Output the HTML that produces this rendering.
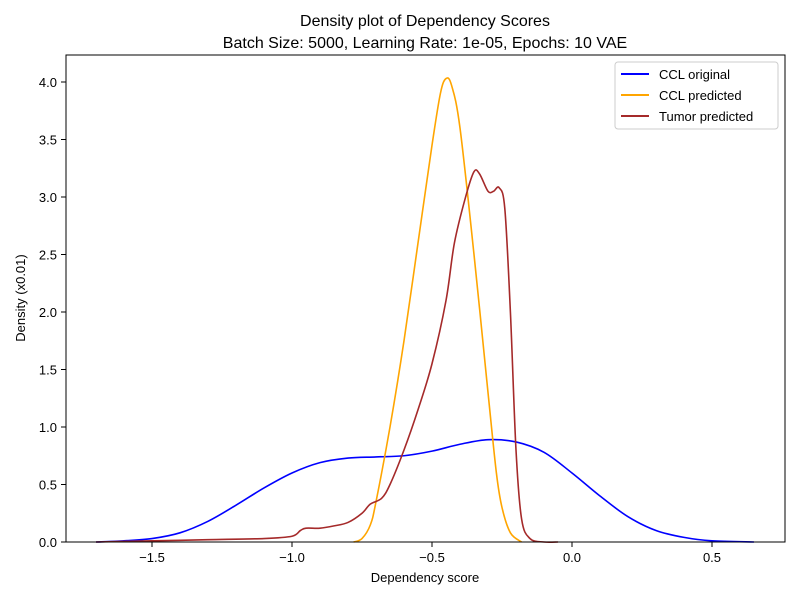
<!DOCTYPE html>
<html><head><meta charset="utf-8"><style>
body{margin:0;background:#fff;font-family:"Liberation Sans",sans-serif}
svg text{font-family:"Liberation Sans",sans-serif;fill:#000}
</style></head><body>
<svg id="chart" width="800" height="600">
<text x="425" y="26" font-size="16" text-anchor="middle">Density plot of Dependency Scores</text>
<text x="425" y="48" font-size="16" text-anchor="middle">Batch Size: 5000, Learning Rate: 1e-05, Epochs: 10 VAE</text>
<g id="curves"></g>
<rect x="66" y="55" width="719" height="487" fill="none" stroke="#000" stroke-width="1"/>
<g id="axes"></g>
<text x="425" y="582" font-size="13" text-anchor="middle">Dependency score</text>
<text transform="translate(25,298) rotate(-90)" font-size="13" text-anchor="middle">Density (x0.01)</text>
<g>
<rect x="615" y="62" width="163" height="67" fill="#fff" stroke="#ccc" rx="3"/>
<line x1="621" y1="74" x2="649" y2="74" stroke="#0000ff" stroke-width="2"/><text x="659" y="79" font-size="13">CCL original</text>
<line x1="621" y1="95" x2="649" y2="95" stroke="#ffa500" stroke-width="2"/><text x="659" y="100" font-size="13">CCL predicted</text>
<line x1="621" y1="116" x2="649" y2="116" stroke="#a52a2a" stroke-width="2"/><text x="659" y="121" font-size="13">Tumor predicted</text>
</g>
</svg>
<script>
const xTicks=[-1.5,-1.0,-0.5,0.0,0.5];
const yTicks=[0.0,0.5,1.0,1.5,2.0,2.5,3.0,3.5,4.0];
const cclOrigX=[-1.7,-1.6,-1.5,-1.4,-1.3,-1.2,-1.1,-1.0,-0.9,-0.8,-0.7,-0.6,-0.5,-0.4,-0.3,-0.2,-0.1,0.0,0.1,0.2,0.3,0.4,0.5,0.65];
const cclOrigY=[0.0,0.01,0.03,0.08,0.18,0.32,0.47,0.6,0.69,0.73,0.74,0.75,0.79,0.85,0.89,0.87,0.78,0.6,0.4,0.22,0.1,0.04,0.01,0.0];
const cclPredX=[-0.78,-0.75,-0.72,-0.7,-0.65,-0.6,-0.55,-0.5,-0.47,-0.45,-0.43,-0.4,-0.35,-0.3,-0.27,-0.25,-0.22,-0.18];
const cclPredY=[0.0,0.03,0.15,0.35,1.0,1.75,2.6,3.45,3.9,4.03,3.97,3.6,2.5,1.3,0.6,0.3,0.08,0.0];
const tumX=[-1.7,-1.5,-1.3,-1.1,-1.0,-0.97,-0.95,-0.9,-0.85,-0.8,-0.75,-0.72,-0.68,-0.65,-0.6,-0.55,-0.5,-0.45,-0.42,-0.38,-0.35,-0.33,-0.3,-0.28,-0.26,-0.24,-0.22,-0.2,-0.18,-0.15,-0.1,-0.05];
const tumY=[0.0,0.01,0.02,0.03,0.05,0.1,0.12,0.12,0.14,0.17,0.25,0.33,0.38,0.5,0.8,1.15,1.55,2.1,2.6,3.0,3.22,3.2,3.05,3.05,3.08,2.9,2.0,0.8,0.2,0.03,0.0,0.0];
const X=v=>572+v*280, Y=v=>542-v*115;
const NS="http://www.w3.org/2000/svg";
const axes=document.getElementById('axes'), curves=document.getElementById('curves');
function mk(t,a,p){const e=document.createElementNS(NS,t);for(const k in a)e.setAttribute(k,a[k]);p.appendChild(e);return e;}
xTicks.forEach(t=>{
 mk('line',{x1:X(t),x2:X(t),y1:542,y2:547,stroke:'#000'},axes);
 const tx=mk('text',{x:X(t),y:562,'font-size':13,'text-anchor':'middle'},axes);tx.textContent=t.toFixed(1).replace('-','−');
 
 
});
yTicks.forEach(t=>{
 mk('line',{x1:61,x2:66,y1:Y(t),y2:Y(t),stroke:'#000'},axes);
 const tx=mk('text',{x:57,y:Y(t)+5,'font-size':13,'text-anchor':'end'},axes);tx.textContent=t.toFixed(1);
 
 
});
function smooth(xs,ys){
 const p=xs.map((x,i)=>[X(x),Y(ys[i])]);let d=`M${p[0][0]},${p[0][1]}`;
 for(let i=0;i<p.length-1;i++){const p0=p[Math.max(0,i-1)],p1=p[i],p2=p[i+1],p3=p[Math.min(p.length-1,i+2)];
  const c1=[p1[0]+(p2[0]-p0[0])/6,p1[1]+(p2[1]-p0[1])/6],c2=[p2[0]-(p3[0]-p1[0])/6,p2[1]-(p3[1]-p1[1])/6];
  d+=`C${c1[0]},${c1[1]} ${c2[0]},${c2[1]} ${p2[0]},${p2[1]}`;}
 return d;}
const l1=mk('path',{d:smooth(cclOrigX,cclOrigY),fill:'none',stroke:'#0000ff','stroke-width':1.6},curves);


const l2=mk('path',{d:smooth(cclPredX,cclPredY),fill:'none',stroke:'#ffa500','stroke-width':1.6},curves);


const l3=mk('path',{d:smooth(tumX,tumY),fill:'none',stroke:'#a52a2a','stroke-width':1.6},curves);


</script>
</body></html>
